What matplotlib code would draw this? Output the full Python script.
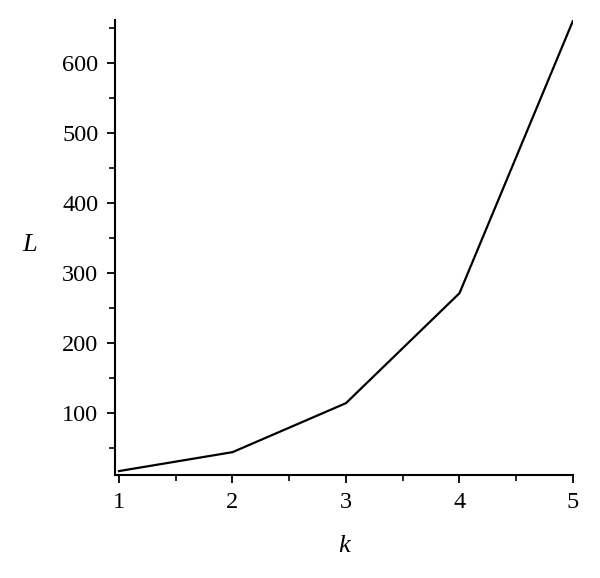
import numpy as np
import matplotlib.pyplot as plt
from matplotlib.ticker import MultipleLocator

# data
k = [1, 2, 3, 4, 5]
L = [17, 44, 114, 271, 660]
xticks = [1, 2, 3, 4, 5]
yticks = [100, 200, 300, 400, 500, 600]

plt.rcParams['font.family'] = ['Liberation Serif', 'DejaVu Serif']

fig = plt.figure(figsize=(6, 5.78), dpi=100)
ax = fig.add_axes([115 / 600, (578 - 475) / 578, (573 - 115) / 600, (475 - 20) / 578])

ax.plot(k, L, color='black', lw=1.6)

ax.set_xlim(0.965, 5)
ax.set_ylim(11.4, 661)

ax.set_xticks(xticks)
ax.set_yticks(yticks)
ax.xaxis.set_minor_locator(MultipleLocator(0.5))
ax.yaxis.set_minor_locator(MultipleLocator(50))

for s in ['top', 'right']:
    ax.spines[s].set_visible(False)
for s in ['left', 'bottom']:
    ax.spines[s].set_linewidth(1.5)

ax.tick_params(which='major', direction='out', length=6, width=1.3, labelsize=17.5, pad=6)
ax.tick_params(which='minor', direction='out', length=4, width=1.2)

ax.set_xlabel('k', fontsize=19, fontstyle='italic', labelpad=16)
ax.set_ylabel('L', fontsize=19, fontstyle='italic', rotation=0, va='center', ha='center')
ax.yaxis.set_label_coords(-0.186, 0.505)

fig.savefig('out.png', dpi=100)
